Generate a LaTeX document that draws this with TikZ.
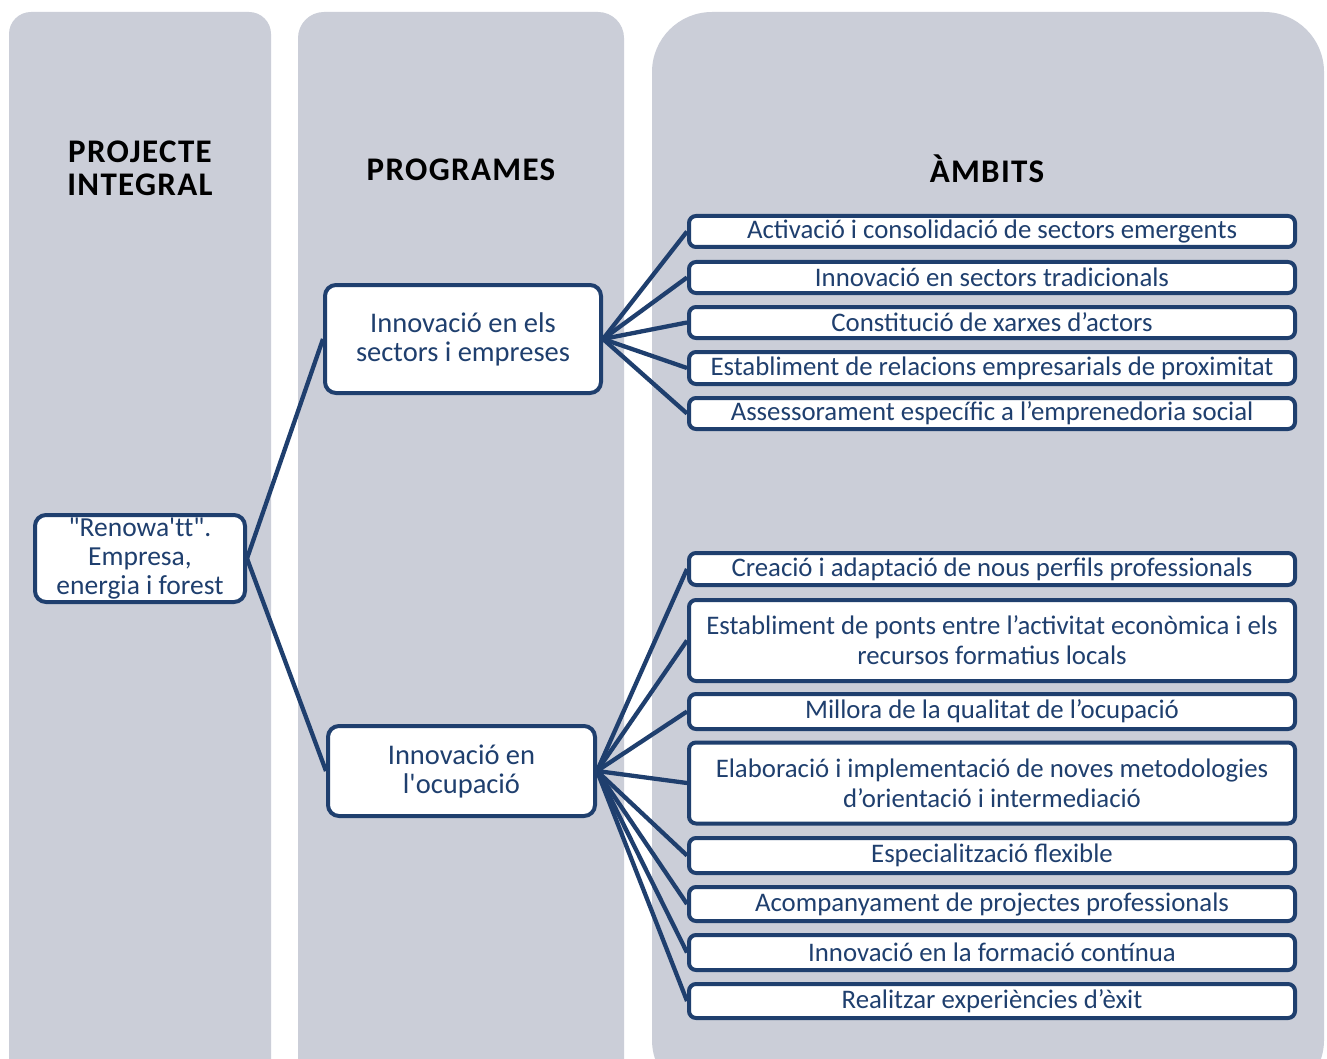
\documentclass[tikz,border=0pt]{standalone}
\usepackage{fontspec}
\setmainfont{Carlito}
\newfontfamily\plainfont{Carlito}[Ligatures=NoCommon]
\newfontfamily\headfont{Carlito}[LetterSpace=4]
\definecolor{colgray}{HTML}{CBCED8}
\definecolor{navy}{HTML}{1F3F6E}
\tikzset{
  x=1pt,y=-1pt,
  column/.style={fill=colgray,draw=none},
  ambit/.style={draw=navy,line width=4pt,rounded corners=7pt,fill=white,minimum width=606pt,text=navy,font=\fontsize{26.8}{30}\selectfont,align=center,inner sep=0pt},
  prog/.style={draw=navy,line width=4pt,rounded corners=11pt,fill=white,text=navy,font=\fontsize{28.5}{29}\selectfont,align=center,inner sep=0pt},
  heading/.style={font=\headfont\fontsize{33}{33}\selectfont\bfseries,align=center,text=black},
  conn/.style={draw=navy,line width=4.3pt}
}
\begin{document}
\begin{tikzpicture}
\clip (0,0) rectangle (1327,1059);
\fill[white] (0,0) rectangle (1327,1059);
% columns
\fill[column,rounded corners=22pt] (9,12) rectangle (271,1100);
\fill[column,rounded corners=26pt] (298,12) rectangle (624,1100);
\fill[column,rounded corners=60pt] (652,12) rectangle (1324,1100);
% headings
\node[heading] (hproj) at (140,168) {PROJECTE\\INTEGRAL};
\node[heading] (hprog) at (461,170) {PROGRAMES};
\node[heading] (hamb) at (987,169) {ÀMBITS};
% root
\node[prog,minimum width=210pt,minimum height=87pt,font=\plainfont\fontsize{27.5}{29}\selectfont] (root) at (140,558.5) {"Renowa'tt".\\Empresa,\\energia i forest};
% programmes
\node[prog,minimum width=276pt,minimum height=108pt] (p1) at (463,339) {Innovació en els\\sectors i empreses};
\node[prog,minimum width=267pt,minimum height=90pt,font=\plainfont\fontsize{28.5}{29}\selectfont] (p2) at (461.5,771) {Innovació en\\l'ocupació};
% ambits
\node[ambit,minimum height=31pt] (a1) at (992,231.5) {Activació i consolidació de sectors emergents};
\node[ambit,minimum height=31pt] (a2) at (992,277.5) {Innovació en sectors tradicionals};
\node[ambit,minimum height=31pt] (a3) at (992,322.5) {Constitució de xarxes d’actors};
\node[ambit,minimum height=32pt] (a4) at (992,368) {Establiment de relacions empresarials de proximitat};
\node[ambit,minimum height=31pt] (a5) at (992,413.5) {Assessorament específic a l’emprenedoria social};
\node[ambit,minimum height=32pt] (b1) at (992,569) {Creació i adaptació de nous perfils professionals};
\node[ambit,minimum height=81pt] (b2) at (992,640.5) {Establiment de ponts entre l’activitat econòmica i els\\recursos formatius locals};
\node[ambit,minimum height=35pt] (b3) at (992,711.5) {Millora de la qualitat de l’ocupació};
\node[ambit,minimum height=81pt] (b4) at (992,783) {Elaboració i implementació de noves metodologies\\d’orientació i intermediació};
\node[ambit,minimum height=35pt] (b5) at (992,855.5) {Especialització flexible};
\node[ambit,minimum height=34pt] (b6) at (992,904) {Acompanyament de projectes professionals};
\node[ambit,minimum height=35pt] (b7) at (992,952.5) {Innovació en la formació contínua};
\node[ambit,minimum height=34pt] (b8) at (992,1001) {Realitzar experiències d’èxit};
% connectors
\draw[conn] (root.east) -- (p1.west);
\draw[conn] (root.east) -- (p2.west);
\foreach \t in {a1,a2,a3,a4,a5} \draw[conn] (p1.east) -- (\t.west);
\foreach \t in {b1,b2,b3,b4,b5,b6,b7,b8} \draw[conn] (p2.east) -- (\t.west);
\end{tikzpicture}
\end{document}
